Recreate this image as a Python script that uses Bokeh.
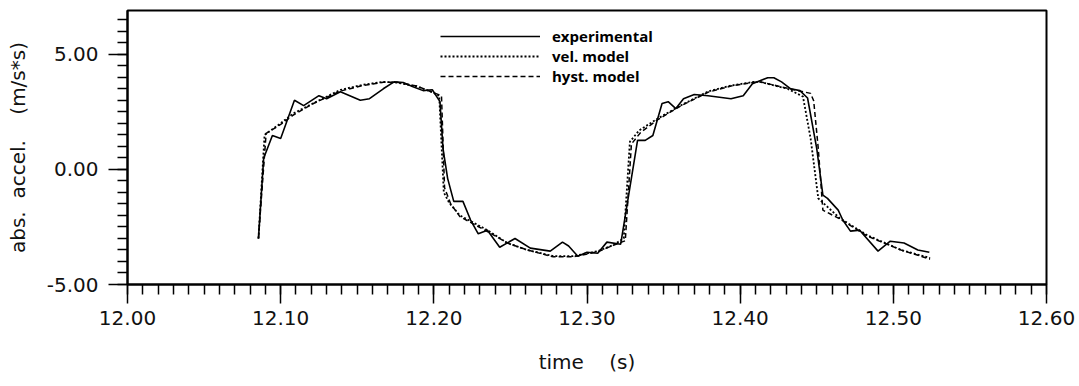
import numpy as np
from bokeh.plotting import figure
from bokeh.models import FixedTicker, PrintfTickFormatter, Legend, LegendItem, Range1d
from bokeh.embed import file_html
from bokeh.resources import INLINE

# ---- data ----
exp_t = [12.0855, 12.0889, 12.0946, 12.1000, 12.1090, 12.1150, 12.1250, 12.1300, 12.1390,
         12.1520, 12.1580, 12.1670, 12.1740, 12.1800, 12.1860, 12.1930, 12.1990, 12.2040,
         12.2060, 12.2090, 12.2130, 12.2190, 12.2240, 12.2290, 12.2350, 12.2430, 12.2530,
         12.2630, 12.2760, 12.2840, 12.2880, 12.2940, 12.3000, 12.3070, 12.3130, 12.3220,
         12.3330, 12.3380, 12.3430, 12.3490, 12.3530, 12.3580, 12.3630, 12.3700, 12.3790,
         12.3940, 12.4020, 12.4080, 12.4180, 12.4220, 12.4270, 12.4330, 12.4390, 12.4440,
         12.4500, 12.4540, 12.4570, 12.4640, 12.4670, 12.4720, 12.4780, 12.4900, 12.4980,
         12.5070, 12.5160, 12.5235]
exp_a = [-3.00, 0.48, 1.47, 1.34, 3.00, 2.77, 3.20, 3.07, 3.37,
         3.00, 3.07, 3.50, 3.80, 3.77, 3.60, 3.42, 3.46, 2.94,
         0.90, -0.39, -1.39, -1.39, -2.20, -2.80, -2.64, -3.38, -3.00,
         -3.42, -3.55, -3.16, -3.33, -3.77, -3.60, -3.64, -3.16, -3.25,
         1.26, 1.26, 1.47, 2.86, 2.94, 2.64, 3.07, 3.25, 3.20,
         3.07, 3.20, 3.72, 3.98, 3.98, 3.80, 3.50, 3.42, 3.10,
         0.90, -1.12, -1.26, -1.77, -2.20, -2.68, -2.64, -3.55, -3.12,
         -3.20, -3.50, -3.60]

vel_t = [12.0855, 12.0895, 12.1000, 12.1080, 12.1210, 12.1340, 12.1390, 12.1540, 12.1670,
         12.1760, 12.1890, 12.1980, 12.2035, 12.2065, 12.2100, 12.2170, 12.2350, 12.2480,
         12.2610, 12.2780, 12.2910, 12.3070, 12.3170, 12.3240, 12.3280, 12.3340, 12.3460,
         12.3610, 12.3790, 12.3940, 12.4090, 12.4130, 12.4310, 12.4410, 12.4460, 12.4510,
         12.4650, 12.4830, 12.5050, 12.5240]
vel_a = [-3.00, 1.50, 2.00, 2.42, 2.86, 3.29, 3.45, 3.68, 3.80,
         3.77, 3.60, 3.38, 3.20, -1.00, -1.45, -2.00, -2.64, -3.20,
         -3.50, -3.77, -3.77, -3.55, -3.29, -3.00, 1.20, 1.69, 2.20,
         2.77, 3.38, 3.64, 3.80, 3.80, 3.50, 3.16, 1.34, -1.26,
         -2.12, -2.86, -3.50, -3.85]

hyst_t = [12.0855, 12.0905, 12.1000, 12.1080, 12.1210, 12.1340, 12.1390, 12.1540, 12.1670,
          12.1760, 12.1890, 12.1990, 12.2050, 12.2070, 12.2110, 12.2170, 12.2350, 12.2480,
          12.2610, 12.2780, 12.2910, 12.3070, 12.3170, 12.3250, 12.3290, 12.3350, 12.3460,
          12.3610, 12.3790, 12.3940, 12.4090, 12.4130, 12.4310, 12.4460, 12.4480, 12.4510,
          12.4540, 12.4650, 12.4830, 12.5050, 12.5240]
hyst_a = [-3.00, 1.56, 1.95, 2.35, 2.85, 3.25, 3.40, 3.65, 3.78,
          3.78, 3.62, 3.35, 3.20, -0.80, -1.50, -2.05, -2.70, -3.20,
          -3.50, -3.80, -3.80, -3.58, -3.30, -3.10, 1.10, 1.60, 2.15,
          2.75, 3.35, 3.62, 3.78, 3.80, 3.52, 3.30, 2.98, 0.90,
          -1.77, -2.15, -2.90, -3.50, -3.90]

x_ticks = [12.00, 12.10, 12.20, 12.30, 12.40, 12.50, 12.60]
y_ticks = [-5.0, 0.0, 5.0]
series_names = ["experimental", "vel. model", "hyst. model"]

# ---- figure ----
p = figure(width=1079, height=386, output_backend="svg", toolbar_location=None,
           x_range=Range1d(12.0, 12.6), y_range=Range1d(-5.0, 6.9),
           min_border_left=127, min_border_right=33, min_border_top=10, min_border_bottom=102)
p.background_fill_color = "white"
p.border_fill_color = "white"
p.grid.visible = False
p.outline_line_color = "black"
p.outline_line_width = 2

r_exp = p.line(exp_t, exp_a, line_color="black", line_width=1.6)
r_vel = p.line(vel_t, vel_a, line_color="black", line_width=1.8, line_dash="2 2")
r_hys = p.line(hyst_t, hyst_a, line_color="black", line_width=1.5, line_dash="5 3")

p.xaxis.ticker = FixedTicker(ticks=x_ticks, minor_ticks=list(np.round(np.arange(12.0, 12.6001, 0.01), 3)))
p.yaxis.ticker = FixedTicker(ticks=y_ticks, minor_ticks=list(np.round(np.arange(-5.0, 7.0, 0.5), 2)))
p.xaxis.formatter = PrintfTickFormatter(format="%.2f")
p.yaxis.formatter = PrintfTickFormatter(format="%.2f")

for ax in (p.xaxis[0], p.yaxis[0]):
    ax.axis_line_color = "black"
    ax.axis_line_width = 2
    ax.major_tick_line_color = "black"
    ax.minor_tick_line_color = "black"
    ax.major_tick_line_width = 1.5
    ax.minor_tick_line_width = 1.5
    ax.major_tick_in = 0
    ax.major_tick_out = 19
    ax.minor_tick_in = 0
    ax.minor_tick_out = 10
    ax.major_label_text_font = "DejaVu Sans"
    ax.major_label_text_font_size = "20px"
    ax.major_label_text_color = "#111111"
    ax.axis_label_text_font = "DejaVu Sans"
    ax.axis_label_text_font_size = "20px"
    ax.axis_label_text_font_style = "normal"
    ax.axis_label_text_color = "#111111"

p.xaxis.major_label_standoff = 7
p.yaxis.major_label_standoff = 10
p.xaxis.axis_label = "time \u00a0\u00a0 (s)"
p.yaxis.axis_label = "abs.\u00a0 accel.\u00a0\u00a0\u00a0 (m/s*s)"
p.xaxis.axis_label_standoff = 22
p.yaxis.axis_label_standoff = 14

legend = Legend(items=[LegendItem(label=series_names[0], renderers=[r_exp]),
                       LegendItem(label=series_names[1], renderers=[r_vel]),
                       LegendItem(label=series_names[2], renderers=[r_hys])],
                location=(313, 198), glyph_width=100, glyph_height=16, label_height=16,
                label_standoff=12, spacing=0, padding=0, margin=0,
                border_line_alpha=0, background_fill_alpha=0,
                label_text_font="Open Sans", label_text_font_style="bold",
                label_text_font_size="15px", label_text_color="black",
                label_text_line_height=1.0)
p.add_layout(legend, "center")

open("out.html", "w").write(file_html(p, INLINE))
